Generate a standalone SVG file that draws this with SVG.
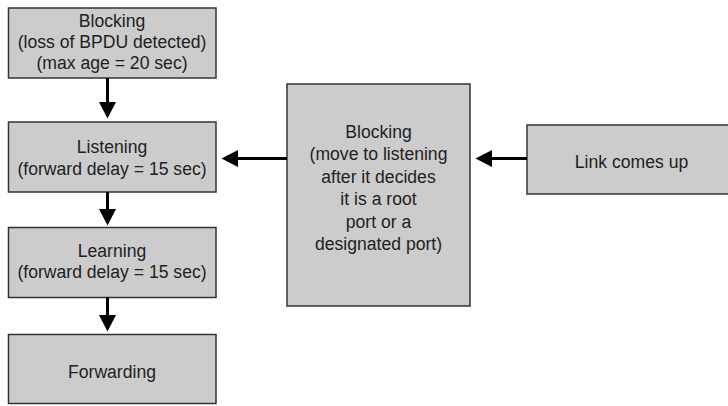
<svg xmlns="http://www.w3.org/2000/svg" width="728" height="406" viewBox="0 0 728 406">
<defs>
<style>
.box{fill:#cccccc;stroke:#333333;stroke-width:1.5}
.t{font-family:"Liberation Sans",Arial,sans-serif;font-size:17.6px;fill:#222222;text-anchor:middle}
.c{stroke:#000000;stroke-width:3;fill:none}
.h{fill:#000000}
</style>
</defs>
<rect width="728" height="406" fill="#ffffff"/>
<g id="blocking-loss">
<rect class="box" x="8.5" y="8" width="207.5" height="70"/>
<text class="t" x="112" y="27">Blocking</text>
<text class="t" x="112" y="48">(loss of BPDU detected)</text>
<text class="t" x="112" y="68.5">(max age = 20 sec)</text>
</g>
<g id="listening">
<rect class="box" x="8.5" y="122" width="207.5" height="70"/>
<text class="t" x="112" y="153">Listening</text>
<text class="t" x="112" y="175">(forward delay = 15 sec)</text>
</g>
<g id="learning">
<rect class="box" x="8.5" y="227.5" width="207.5" height="70"/>
<text class="t" x="112" y="257">Learning</text>
<text class="t" x="112" y="278">(forward delay = 15 sec)</text>
</g>
<g id="forwarding">
<rect class="box" x="8.5" y="334.5" width="207.5" height="69"/>
<text class="t" x="112" y="378">Forwarding</text>
</g>
<g id="blocking-decide">
<rect class="box" x="287" y="84" width="183" height="222"/>
<text class="t" x="378.5" y="138">Blocking</text>
<text class="t" x="378.5" y="160.4">(move to listening</text>
<text class="t" x="378.5" y="182.8">after it decides</text>
<text class="t" x="378.5" y="205.2">it is a root</text>
<text class="t" x="378.5" y="227.6">port or a</text>
<text class="t" x="378.5" y="250">designated port)</text>
</g>
<g id="link-up">
<rect class="box" x="527" y="125" width="210" height="69"/>
<text class="t" x="631.5" y="168">Link comes up</text>
</g>
<g id="connectors">
<line class="c" x1="107.5" y1="78" x2="107.5" y2="104"/>
<polygon class="h" points="99,102 116,102 107.5,118.5"/>
<line class="c" x1="107.5" y1="192" x2="107.5" y2="212"/>
<polygon class="h" points="99,209 116,209 107.5,225.5"/>
<line class="c" x1="107.5" y1="297.5" x2="107.5" y2="318"/>
<polygon class="h" points="99,315 116,315 107.5,331.5"/>
<line class="c" x1="287" y1="158.5" x2="236" y2="158.5"/>
<polygon class="h" points="238,150 238,167 221.5,158.5"/>
<line class="c" x1="527" y1="158.5" x2="490" y2="158.5"/>
<polygon class="h" points="492,150 492,167 475.5,158.5"/>
</g>
</svg>
